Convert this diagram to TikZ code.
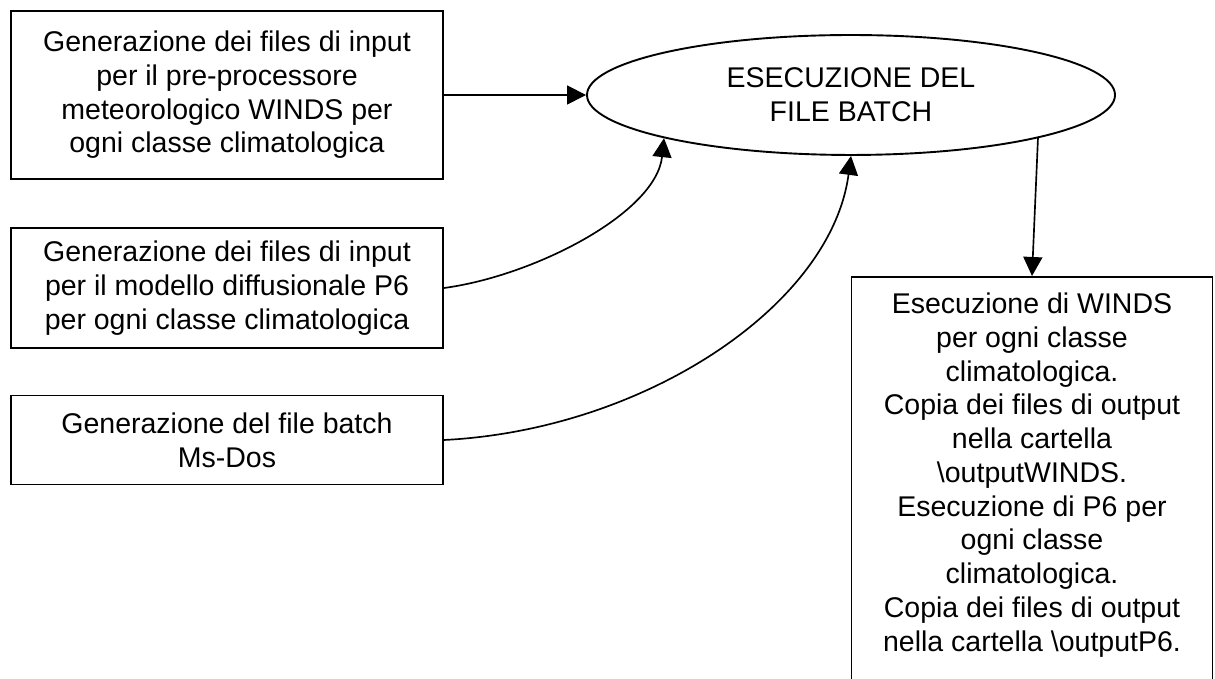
\documentclass[tikz,border=0pt]{standalone}
\usepackage{fontspec}
\setmainfont{Liberation Sans}
\usepackage{xcolor}
\usetikzlibrary{positioning,shapes.geometric,arrows.meta}

\begin{document}
\begin{tikzpicture}[x=0.421pt, y=-0.421pt,
    font=\fontsize{12}{14.2}\selectfont,
    box/.style={draw, line width=0.8pt, align=center, minimum width=181.9pt, inner sep=0pt},
    link/.style={-{Triangle[length=8pt, width=8pt]}, line width=0.7pt}]
\useasboundingbox (0,0) rectangle (1215,679);
\clip (0,0) rectangle (1215,679);

\node[box, minimum height=70.7pt] (windsin) at (227,95) {Generazione dei files di input\\per il pre-processore\\meteorologico WINDS per\\ogni classe climatologica};
\node[box, minimum height=50.5pt] (p6in) at (227,288) {Generazione dei files di input\\per il modello diffusionale P6\\per ogni classe climatologica};
\node[box, minimum height=37.5pt] (batgen) at (227,440) {Generazione del file batch\\Ms-Dos};

\node[draw, ellipse, line width=0.8pt, minimum width=222.3pt, minimum height=50.5pt, inner sep=0pt, align=center] (batch) at (851,95) {ESECUZIONE DEL\\FILE BATCH};

% box runs off the bottom of the page
\node[box, minimum width=152pt, minimum height=200pt, anchor=north] (run) at (1032,276) {};
\node[align=center, inner sep=0pt, below=7pt of run.north] (runtext) {Esecuzione di WINDS\\per ogni classe\\climatologica.\\Copia dei files di output\\nella cartella\\\textbackslash{}outputWINDS.\\Esecuzione di P6 per\\ogni classe\\climatologica.\\Copia dei files di output\\nella cartella \textbackslash{}outputP6.};

\draw[link] (windsin.east) -- (batch.west);
\draw[link] (p6in.east) .. controls +(90,-12) and +(-8,75) .. (batch.193);
\draw[link] (batgen.east) .. controls +(200,-10) and +(-20,150) .. (batch.south);
\draw[link] (batch.347) -- (run.north);
\end{tikzpicture}
\end{document}
